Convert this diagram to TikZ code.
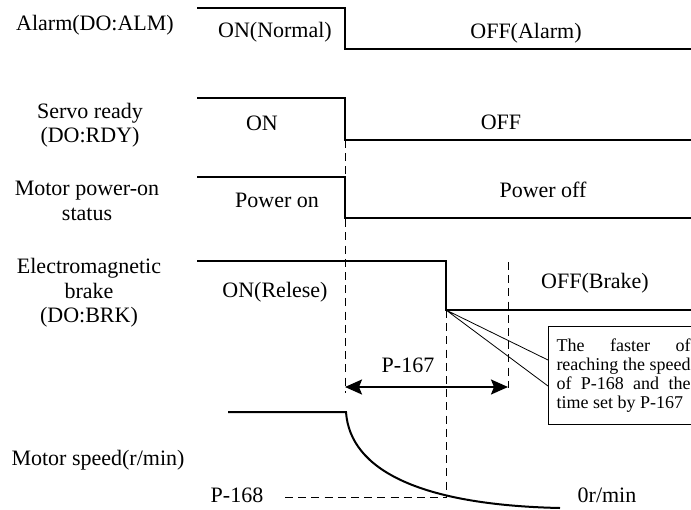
\documentclass[tikz,border=0pt]{standalone}
\usepackage{fontspec}
\setmainfont{Liberation Serif}
\usetikzlibrary{arrows.meta,positioning}
\newcommand{\nobreakhy}{\hyphenpenalty=10000\exhyphenpenalty=10000\relax}
\tikzset{
  >={Stealth[length=8.5pt,width=7.5pt,inset=1.5pt]},
  sig/.style={line width=1pt},
  guide/.style={line width=0.5pt,dash pattern=on 4pt off 2.6pt},
  lead/.style={line width=0.4pt},
  lab/.style={font=\fontsize{11}{12.2}\selectfont,align=center,inner sep=0pt},
  state/.style={font=\fontsize{11}{12}\selectfont,inner sep=0pt},
  note/.style={draw,line width=0.5pt,anchor=north west,text width=67pt,align=justify,
    inner xsep=4pt,inner ysep=6pt,font=\fontsize{9}{9.6}\selectfont},
}

\begin{document}
\begin{tikzpicture}[x=0.5pt,y=-0.5pt]
\useasboundingbox (0,0) rectangle (691,509);

% signal names
\node[lab] (alm) at (95,25) {Alarm(DO:ALM)};
\node[lab] (rdy) at (90,125) {Servo ready\\(DO:RDY)};
\node[lab] (pwr) at (87,201) {Motor power-on\\status};
\node[lab] (brk) at (89,293) {Electromagnetic\\brake\\(DO:BRK)};
\node[lab] (spd) at (98,460) {Motor speed(r/min)};

% waveforms
\draw[sig] (197,8) -- (345,8) -- (345,49) -- (691,49);
\draw[sig] (197,98) -- (345,98) -- (345,140) -- (691,140);
\draw[sig] (197,177) -- (345,177) -- (345,218) -- (691,218);
\draw[sig] (197,261) -- (446,261) -- (446,310) -- (691,310);
\draw[sig] (228,412) -- (346,412) .. controls (350,470) and (420,505) .. (560,508);

\node[state] (almon) at (275,32) {ON(Normal)};
\node[state] (almoff) at (526,33) {OFF(Alarm)};
\node[state] (rdyon) at (262,123) {ON};
\node[state] (rdyoff) at (501,122) {OFF};
\node[state] (pwron) at (277,200) {Power on};
\node[state] (pwroff) at (543,190) {Power off};
\node[state] (brkon) at (275,292) {ON(Relese)};
\node[state] (brkoff) at (595,283) {OFF(Brake)};
\node[state] (zero) at (607,495) {0r/min};
\node[state] (p168) at (237,495) {P-168};

% guide lines
\draw[guide] (345,140) -- (345,393);
\draw[guide] (446,310) -- (446,498);
\draw[guide] (508,262) -- (508,388);
\draw[guide] (285,497) -- (446,497);

% delay P-167
\coordinate (d0) at (345,387);
\coordinate (d1) at (508,387);
\draw[sig,<->] (d0) -- (d1);
\node[state] (p167) at (408,365) {P-167};

% note
\node[note] (cause) at (548,326) {\nobreakhy The faster of reaching the speed of P-168 and the time set by P-167};
\coordinate (brkdrop) at (446,310);
\coordinate (n1) at (548,360);
\coordinate (n2) at (548,386);
\draw[lead] (n1) -- (brkdrop) -- (n2);
\end{tikzpicture}
\end{document}
